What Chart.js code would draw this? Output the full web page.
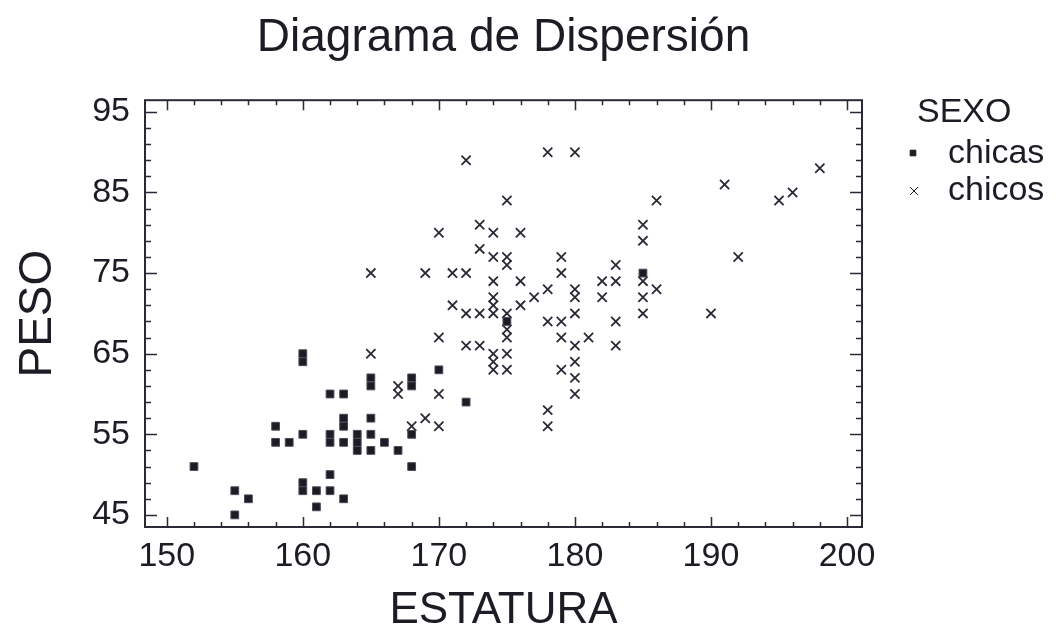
<!DOCTYPE html>
<html><head><meta charset="utf-8">
<script src="https://cdn.jsdelivr.net/npm/chart.js@4.4.1/dist/chart.umd.min.js"></script>
<style>html,body{margin:0;padding:0;background:#fff;}</style>
</head><body>
<canvas id="c" width="1057" height="637"></canvas>
<script>
const titleText = 'Diagrama de Dispersión';
const xTitle = 'ESTATURA';
const yTitle = 'PESO';
const legendTitle = 'SEXO';
const seriesNames = ['chicas', 'chicos'];

const chicasEstatura = [152,155,155,156,158,158,159,160,160,160,160,160,161,161,162,162,162,162,162,163,163,163,163,163,164,164,164,165,165,165,165,165,166,167,168,168,168,168,170,172,175,185];
const chicasPeso     = [51,48,45,47,56,54,54,65,64,55,49,48,48,46,60,55,54,50,48,60,57,56,54,47,55,54,53,62,61,57,55,53,54,53,62,61,55,51,63,59,69,75];

const chicosEstatura = [165,165,167,167,168,169,169,170,170,170,170,171,171,172,172,172,172,173,173,173,173,174,174,174,174,174,174,174,174,174,175,175,175,175,175,175,175,175,176,176,176,177,178,178,178,178,178,179,179,179,179,179,180,180,180,180,180,180,180,180,181,182,182,183,183,183,183,185,185,185,185,185,186,186,190,191,192,195,196,198];
const chicosPeso     = [75,65,61,60,56,75,57,80,67,60,56,75,71,89,75,70,66,81,78,70,66,80,77,74,72,71,70,65,64,63,84,77,76,70,68,67,65,63,80,74,71,72,90,73,69,58,56,77,75,69,67,63,90,73,72,70,66,64,62,60,67,74,72,76,74,69,66,81,79,74,72,70,84,73,70,86,77,84,85,88];

const xTickValues = [150,160,170,180,190,200];
const yTickValues = [45,55,65,75,85,95];
const xTickLabels = ['150','160','170','180','190','200'];
const yTickLabels = ['45','55','65','75','85','95'];

const FONT = '"Liberation Sans", Arial, Helvetica, sans-serif';
const INK = '#1c1c24';

function toPoints(xs, ys) { return xs.map((x, i) => ({x: x, y: ys[i]})); }

const framePlugin = {
  id: 'frame',
  beforeDatasetsDraw(chart) {
    const {ctx, chartArea: a} = chart;
    const xs = chart.scales.x, ys = chart.scales.y;
    ctx.save();
    ctx.strokeStyle = '#2a2a36';
    ctx.lineWidth = 1.5;
    ctx.beginPath();
    for (let v = 150; v <= 200; v += 2) {
      const p = Math.round(xs.getPixelForValue(v)) + 0.5;
      const len = (v % 10 === 0) ? 10 : 5;
      ctx.moveTo(p, a.bottom); ctx.lineTo(p, a.bottom - len);
      ctx.moveTo(p, a.top); ctx.lineTo(p, a.top + len);
    }
    for (let v = 45; v <= 95; v += 2) {
      const p = Math.round(ys.getPixelForValue(v)) + 0.5;
      const len = ((v - 45) % 10 === 0) ? 12 : 6;
      ctx.moveTo(a.left, p); ctx.lineTo(a.left + len, p);
      ctx.moveTo(a.right, p); ctx.lineTo(a.right - len, p);
    }
    ctx.stroke();
    ctx.lineWidth = 2;
    ctx.strokeRect(a.left, a.top, a.right - a.left, a.bottom - a.top);
    ctx.restore();
  }
};

const legendPlugin = {
  id: 'customLegend',
  afterDraw(chart) {
    const ctx = chart.ctx;
    ctx.save();
    ctx.fillStyle = INK;
    ctx.textAlign = 'left';
    ctx.textBaseline = 'alphabetic';
    ctx.font = '34px ' + FONT;
    ctx.fillText(legendTitle, 917, 122);
    ctx.fillText(seriesNames[0], 948, 163);
    ctx.fillText(seriesNames[1], 948, 200);
    ctx.strokeStyle = INK;
    Chart.helpers.drawPoint(ctx, {pointStyle: 'rect', radius: 4, borderWidth: 1, rotation: 0}, 913, 153);
    Chart.helpers.drawPoint(ctx, {pointStyle: 'crossRot', radius: 5.5, borderWidth: 1.4, rotation: 0}, 914, 191);
    ctx.restore();
  }
};

new Chart(document.getElementById('c'), {
  type: 'scatter',
  data: {
    datasets: [
      {
        label: seriesNames[0],
        data: toPoints(chicasEstatura, chicasPeso),
        pointStyle: 'rect',
        pointRadius: 5.5,
        pointBackgroundColor: INK,
        pointBorderColor: '#4a4a5a',
        pointBorderWidth: 1
      },
      {
        label: seriesNames[1],
        data: toPoints(chicosEstatura, chicosPeso),
        pointStyle: 'crossRot',
        pointRadius: 6.5,
        pointBackgroundColor: INK,
        pointBorderColor: '#2a2a36',
        pointBorderWidth: 1.8
      }
    ]
  },
  options: {
    responsive: false,
    animation: false,
    devicePixelRatio: 1,
    layout: {padding: 0},
    plugins: {
      legend: {display: false},
      tooltip: {enabled: false},
      title: {
        display: true,
        text: titleText,
        fullSize: false,
        color: INK,
        font: {family: FONT, size: 46, weight: 'normal'},
        padding: {top: 11, bottom: 34}
      }
    },
    scales: {
      x: {
        type: 'linear',
        min: 148.4, max: 201.1,
        afterBuildTicks: s => { s.ticks = xTickValues.map(v => ({value: v})); },
        afterFit: s => { s.height = 110; },
        grid: {display: false},
        border: {display: false},
        ticks: {
          color: INK, padding: 1,
          font: {family: FONT, size: 34},
          maxRotation: 0, autoSkip: false,
          callback: (v) => { const i = xTickValues.indexOf(v); return i >= 0 ? xTickLabels[i] : ''; }
        },
        title: {display: true, text: xTitle, color: INK, font: {family: FONT, size: 44}, padding: {top: 0, bottom: 0}}
      },
      y: {
        type: 'linear',
        min: 43.5, max: 96.45,
        afterBuildTicks: s => { s.ticks = yTickValues.map(v => ({value: v})); },
        afterFit: s => { s.width = 145; },
        grid: {display: false},
        border: {display: false},
        ticks: {
          color: INK, padding: 7,
          font: {family: FONT, size: 34},
          autoSkip: false,
          callback: (v) => { const i = yTickValues.indexOf(v); return i >= 0 ? yTickLabels[i] : ''; }
        },
        title: {display: true, text: yTitle, color: INK, font: {family: FONT, size: 46}, padding: {top: 11, bottom: 0}}
      },
      spacer: {
        type: 'linear',
        position: 'right',
        display: true,
        afterFit: s => { s.width = 195; },
        grid: {display: false},
        border: {display: false},
        ticks: {display: false}
      }
    }
  },
  plugins: [framePlugin, legendPlugin]
});
</script>
</body></html>
